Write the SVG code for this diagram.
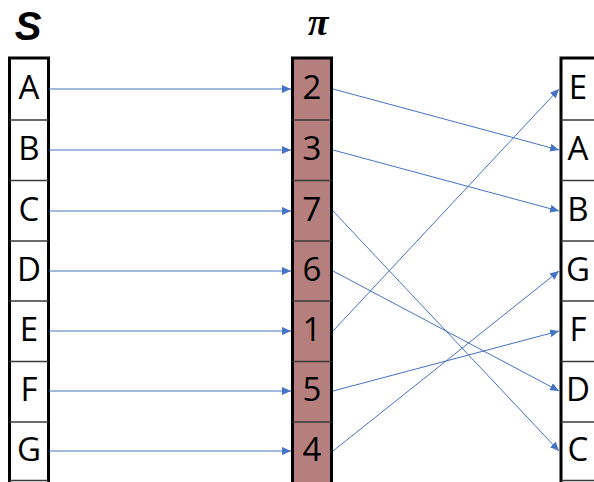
<svg xmlns="http://www.w3.org/2000/svg" width="594" height="482" viewBox="0 0 594 482">
<style>
.box{fill:#ffffff;stroke:#000000;stroke-width:3}
.pbox{fill:#b57f7d;stroke:#000000;stroke-width:3}
.sep{stroke:#3a3a3a;stroke-width:1.5}
.t{font-family:"Open Sans","Liberation Sans",sans-serif;font-size:33px;fill:#000000;text-anchor:middle}
.h{font-weight:bold;font-style:italic;fill:#000000;text-anchor:middle}
.c{stroke:#4472c4;stroke-width:1;fill:none;marker-end:url(#ah)}
</style>
<defs>
<marker id="ah" markerUnits="userSpaceOnUse" markerWidth="10" markerHeight="8" refX="9" refY="4" orient="auto">
<path d="M0,0 L9,4 L0,8 Z" fill="#4472c4"/>
</marker>
</defs>
<text class="h" x="28" y="40" font-size="40" font-family="'Liberation Sans',sans-serif">S</text>
<text class="h" x="318" y="35" font-size="38" font-family="'Liberation Serif',serif">π</text>
<g id="S">
<rect class="box" x="9.5" y="58" width="39" height="430"/>
<line class="sep" x1="9.5" y1="120" x2="48.5" y2="120"/>
<line class="sep" x1="9.5" y1="180.5" x2="48.5" y2="180.5"/>
<line class="sep" x1="9.5" y1="241" x2="48.5" y2="241"/>
<line class="sep" x1="9.5" y1="301" x2="48.5" y2="301"/>
<line class="sep" x1="9.5" y1="361.5" x2="48.5" y2="361.5"/>
<line class="sep" x1="9.5" y1="422" x2="48.5" y2="422"/>
<line class="sep" x1="9.5" y1="480.5" x2="48.5" y2="480.5"/>
<text class="t" x="29" y="99">A</text>
<text class="t" x="29" y="160">B</text>
<text class="t" x="29" y="221">C</text>
<text class="t" x="29" y="281">D</text>
<text class="t" x="29" y="341">E</text>
<text class="t" x="29" y="401">F</text>
<text class="t" x="29" y="461">G</text>
</g>
<g id="pi">
<rect class="pbox" x="292.5" y="58" width="39" height="430"/>
<line class="sep" x1="292.5" y1="120" x2="331.5" y2="120"/>
<line class="sep" x1="292.5" y1="180.5" x2="331.5" y2="180.5"/>
<line class="sep" x1="292.5" y1="241" x2="331.5" y2="241"/>
<line class="sep" x1="292.5" y1="301" x2="331.5" y2="301"/>
<line class="sep" x1="292.5" y1="361.5" x2="331.5" y2="361.5"/>
<line class="sep" x1="292.5" y1="422" x2="331.5" y2="422"/>
<text class="t" x="312" y="99">2</text>
<text class="t" x="312" y="160">3</text>
<text class="t" x="312" y="221">7</text>
<text class="t" x="312" y="281">6</text>
<text class="t" x="312" y="341">1</text>
<text class="t" x="312" y="401">5</text>
<text class="t" x="312" y="461">4</text>
</g>
<g id="R">
<rect class="box" x="561" y="58" width="39" height="430"/>
<line class="sep" x1="561" y1="120" x2="600" y2="120"/>
<line class="sep" x1="561" y1="180.5" x2="600" y2="180.5"/>
<line class="sep" x1="561" y1="241" x2="600" y2="241"/>
<line class="sep" x1="561" y1="301" x2="600" y2="301"/>
<line class="sep" x1="561" y1="361.5" x2="600" y2="361.5"/>
<line class="sep" x1="561" y1="422" x2="600" y2="422"/>
<line class="sep" x1="561" y1="480.5" x2="600" y2="480.5"/>
<text class="t" x="578" y="99">E</text>
<text class="t" x="578" y="160">A</text>
<text class="t" x="578" y="221">B</text>
<text class="t" x="578" y="281">G</text>
<text class="t" x="578" y="341">F</text>
<text class="t" x="578" y="401">D</text>
<text class="t" x="578" y="461">C</text>
</g>
<g id="connectors">
<line class="c" x1="49" y1="89" x2="291" y2="89"/>
<line class="c" x1="49" y1="150" x2="291" y2="150"/>
<line class="c" x1="49" y1="211" x2="291" y2="211"/>
<line class="c" x1="49" y1="271" x2="291" y2="271"/>
<line class="c" x1="49" y1="331" x2="291" y2="331"/>
<line class="c" x1="49" y1="391" x2="291" y2="391"/>
<line class="c" x1="49" y1="451" x2="291" y2="451"/>
<line class="c" x1="333" y1="89" x2="559" y2="150"/>
<line class="c" x1="333" y1="150" x2="559" y2="211"/>
<line class="c" x1="333" y1="211" x2="559" y2="451"/>
<line class="c" x1="333" y1="271" x2="559" y2="391"/>
<line class="c" x1="333" y1="331" x2="559" y2="89"/>
<line class="c" x1="333" y1="391" x2="559" y2="331"/>
<line class="c" x1="333" y1="451" x2="559" y2="271"/>
</g>
</svg>
